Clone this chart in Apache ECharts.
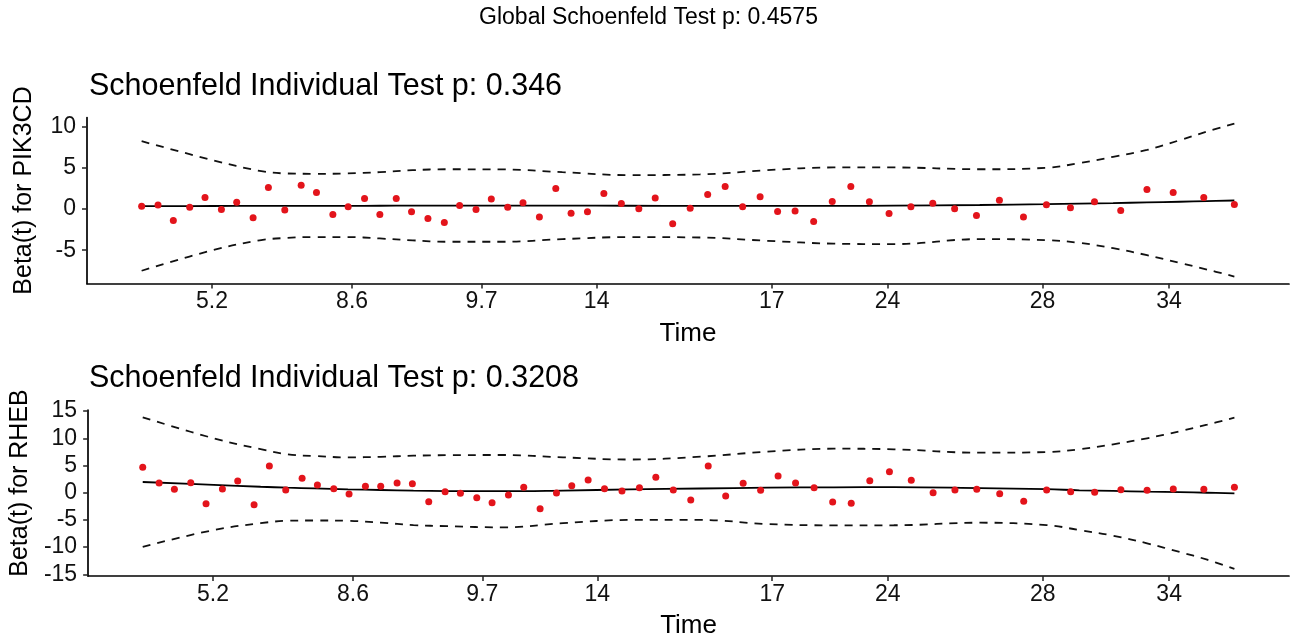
<!DOCTYPE html>
<html><head><meta charset="utf-8">
<script src="https://cdn.jsdelivr.net/npm/echarts@6/dist/echarts.min.js"></script>
<style>html,body{margin:0;padding:0;background:#fff}#c{width:1297px;height:642px}</style>
</head><body><div id="c"></div>
<script>
const globalTitle = 'Global Schoenfeld Test p: 0.4575';
const panelTitles = ['Schoenfeld Individual Test p: 0.346', 'Schoenfeld Individual Test p: 0.3208'];
const yNames = ['Beta(t) for PIK3CD', 'Beta(t) for RHEB'];
const xName = 'Time';

// transformed-time positions of the labelled ticks, and their labels
const timeTickPos = [0.0644, 0.1926, 0.3111, 0.4164, 0.5766, 0.6825, 0.8245, 0.9402];
const timeTickLabels = ['5.2', '8.6', '9.7', '14', '17', '24', '28', '34'];

// transformed event times (shared by both panels)
const pointTime = [0, 0.015, 0.029, 0.044, 0.058, 0.073, 0.087, 0.102, 0.116, 0.131,
  0.146, 0.160, 0.175, 0.189, 0.204, 0.218, 0.233, 0.247, 0.262, 0.277,
  0.291, 0.306, 0.320, 0.335, 0.349, 0.364, 0.379, 0.393, 0.408, 0.423,
  0.439, 0.455, 0.470, 0.486, 0.502, 0.518, 0.534, 0.550, 0.566, 0.582,
  0.598, 0.615, 0.632, 0.649, 0.666, 0.684, 0.704, 0.724, 0.744, 0.764,
  0.785, 0.807, 0.828, 0.850, 0.872, 0.896, 0.920, 0.944, 0.972, 1.000];

const pik3cdResid = [0.36, 0.49, -1.38, 0.24, 1.42, -0.04, 0.85, -1.06, 2.64, -0.12,
  2.92, 2.03, -0.65, 0.28, 1.30, -0.65, 1.30, -0.32, -1.14, -1.62,
  0.45, -0.04, 1.22, 0.24, 0.77, -0.97, 2.52, -0.49, -0.32, 1.91,
  0.69, 0.04, 1.34, -1.79, 0.12, 1.79, 2.76, 0.28, 1.50, -0.28,
  -0.24, -1.50, 0.93, 2.76, 0.89, -0.53, 0.28, 0.73, 0.04, -0.77,
  1.09, -0.97, 0.53, 0.16, 0.89, -0.16, 2.40, 2.03, 1.42, 0.57];

const rhebResid = [4.67, 1.78, 0.62, 1.84, -2.02, 0.68, 2.15, -2.21, 4.91, 0.50,
  2.65, 1.42, 0.74, -0.24, 1.18, 1.18, 1.78, 1.65, -1.65, 0.18,
  -0.11, -0.92, -1.84, -0.42, 0.99, -2.94, -0.06, 1.29, 2.33, 0.74,
  0.31, 0.92, 2.83, 0.50, -1.34, 4.91, -0.61, 1.73, 0.44, 3.07,
  1.78, 0.92, -1.71, -1.95, 2.21, 3.86, 2.28, 0.00, 0.50, 0.62,
  -0.18, -1.58, 0.50, 0.18, 0.07, 0.55, 0.44, 0.68, 0.62, 0.99];

// spline fit and confidence band, read at these transformed times
const curveTime = [0, 0.065, 0.108, 0.133, 0.157, 0.188, 0.218, 0.248, 0.279, 0.330,
  0.385, 0.446, 0.511, 0.572, 0.633, 0.688, 0.767, 0.828, 0.858, 0.889,
  0.920, 0.950, 0.975, 1.000];

const pik3cdFit = [0.36, 0.38, 0.39, 0.40, 0.40, 0.40, 0.41, 0.42, 0.42, 0.42,
  0.42, 0.41, 0.40, 0.40, 0.40, 0.42, 0.50, 0.60, 0.66, 0.73,
  0.82, 0.90, 0.97, 1.05];
const pik3cdUpper = [8.27, 5.96, 4.66, 4.34, 4.30, 4.34, 4.50, 4.74, 4.85, 4.83,
  4.50, 4.14, 4.22, 4.74, 5.07, 5.07, 4.85, 5.03, 5.60, 6.36,
  7.20, 8.39, 9.44, 10.40];
const pik3cdLower = [-7.50, -5.00, -3.80, -3.50, -3.40, -3.40, -3.57, -3.80, -3.97, -3.97,
  -3.65, -3.40, -3.45, -3.85, -4.20, -4.26, -3.65, -3.77, -4.10, -4.75,
  -5.60, -6.55, -7.35, -8.20];

const rhebFit = [1.97, 1.45, 1.10, 0.92, 0.80, 0.62, 0.50, 0.37, 0.30, 0.28,
  0.40, 0.60, 0.78, 0.92, 1.00, 1.03, 0.85, 0.65, 0.45, 0.33,
  0.20, 0.10, 0.00, -0.11];
const rhebUpper = [13.86, 10.00, 8.00, 7.06, 6.75, 6.50, 6.60, 6.80, 6.90, 6.93,
  6.50, 6.10, 6.62, 7.54, 8.09, 7.98, 7.35, 7.48, 7.98, 8.90,
  10.00, 11.30, 12.50, 13.80];
const rhebLower = [-9.93, -6.86, -5.60, -5.15, -5.10, -5.15, -5.50, -5.94, -6.15, -6.36,
  -5.60, -5.00, -5.00, -5.75, -5.99, -5.98, -5.51, -5.94, -6.86, -7.90,
  -9.30, -10.90, -12.30, -14.00];

const pik3cdYTicks = [-5, 0, 5, 10];
const rhebYTicks = [-15, -10, -5, 0, 5, 10, 15];

const FONT = 'Liberation Sans, Arial, sans-serif';
const zip = (xs, ys) => xs.map((x, i) => [x, ys[i]]);

function xAxisFor(g) {
  return {
    type: 'value', gridIndex: g, min: -0.05, max: 1.05,
    axisLine: { show: true, onZero: false, lineStyle: { color: '#000', width: 1.7 } },
    axisTick: { show: true, length: 5, customValues: timeTickPos, lineStyle: { color: '#222', width: 1.5 } },
    axisLabel: {
      customValues: timeTickPos, fontSize: 23, color: '#111', margin: 7, fontFamily: FONT,
      formatter: v => {
        const i = timeTickPos.findIndex(p => Math.abs(p - v) < 1e-6);
        return i >= 0 ? timeTickLabels[i] : '';
      }
    },
    splitLine: { show: false },
    name: xName, nameLocation: 'middle', nameGap: 37,
    nameTextStyle: { fontSize: 26, color: '#000', fontFamily: FONT }
  };
}
function yAxisFor(g, min, max, ticks, name) {
  return {
    type: 'value', gridIndex: g, min: min, max: max,
    axisLine: { show: true, onZero: false, lineStyle: { color: '#000', width: 1.7 } },
    axisTick: { show: true, length: 5, customValues: ticks, lineStyle: { color: '#222', width: 1.5 } },
    axisLabel: { customValues: ticks, fontSize: 23, color: '#111', margin: 11, fontFamily: FONT },
    splitLine: { show: false },
    name: name, nameLocation: 'middle', nameGap: 50,
    nameTextStyle: { fontSize: 25, color: '#000', fontFamily: FONT, padding: [0, 0, 0, 20] }
  };
}
function panelSeries(g, resid, fit, upper, lower) {
  const lineBase = { type: 'line', xAxisIndex: g, yAxisIndex: g, showSymbol: false, smooth: 0.4, silent: true };
  return [
    Object.assign({}, lineBase, { data: zip(curveTime, upper), lineStyle: { color: '#111', width: 1.8, type: [8, 7] } }),
    Object.assign({}, lineBase, { data: zip(curveTime, lower), lineStyle: { color: '#111', width: 1.8, type: [8, 7] } }),
    Object.assign({}, lineBase, { data: zip(curveTime, fit), lineStyle: { color: '#000', width: 1.8 } }),
    { type: 'scatter', xAxisIndex: g, yAxisIndex: g, data: zip(pointTime, resid), symbolSize: 7,
      itemStyle: { color: '#e3141b', opacity: 1 }, z: 5 }
  ];
}

const chart = echarts.init(document.getElementById('c'), null, { renderer: 'canvas' });
chart.setOption({
  animation: false,
  backgroundColor: '#fff',
  title: [
    { text: globalTitle, left: 'center', top: 6, padding: 0,
      textStyle: { fontSize: 23, fontWeight: 'normal', color: '#000', fontFamily: FONT } },
    { text: panelTitles[0], left: 89, top: 71, padding: 0,
      textStyle: { fontSize: 30.5, fontWeight: 'normal', color: '#000', fontFamily: FONT } },
    { text: panelTitles[1], left: 89, top: 363.5, padding: 0,
      textStyle: { fontSize: 30.5, fontWeight: 'normal', color: '#000', fontFamily: FONT } }
  ],
  grid: [
    { left: 87, right: 8, top: 117.5, height: 166 },
    { left: 87, right: 8, top: 410, height: 166 }
  ],
  xAxis: [xAxisFor(0), xAxisFor(1)],
  yAxis: [
    yAxisFor(0, -9.05, 11.15, pik3cdYTicks, yNames[0]),
    yAxisFor(1, -15.3, 15.2, rhebYTicks, yNames[1])
  ],
  series: [].concat(
    panelSeries(0, pik3cdResid, pik3cdFit, pik3cdUpper, pik3cdLower),
    panelSeries(1, rhebResid, rhebFit, rhebUpper, rhebLower)
  )
});
</script>
</body></html>
